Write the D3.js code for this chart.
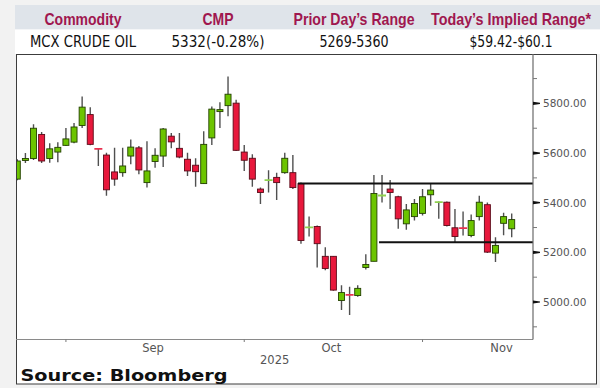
<!DOCTYPE html>
<html>
<head>
<meta charset="utf-8">
<script src="https://cdn.jsdelivr.net/npm/d3@7"></script>
<style>
  body { margin: 0; background: #f2f2f2; }
  svg { display: block; }
</style>
</head>
<body>
<svg id="chart"></svg>
<script>
// header table
const headers = ["Commodity", "CMP", "Prior Day\u2019s Range", "Today\u2019s Implied Range*"];
const rowValues = ["MCX CRUDE OIL", "5332(-0.28%)", "5269-5360", "$59.42-$60.1"];

// daily candles, MCX crude oil
const dates = [
  "2025-08-05","2025-08-06","2025-08-07","2025-08-08","2025-08-11","2025-08-12","2025-08-13","2025-08-14",
  "2025-08-18","2025-08-19","2025-08-20","2025-08-21","2025-08-22","2025-08-25","2025-08-26","2025-08-28",
  "2025-08-29","2025-09-01","2025-09-02","2025-09-03","2025-09-04","2025-09-05","2025-09-08","2025-09-09",
  "2025-09-10","2025-09-11","2025-09-12","2025-09-15","2025-09-16","2025-09-17","2025-09-18","2025-09-19",
  "2025-09-22","2025-09-23","2025-09-24","2025-09-25","2025-09-26","2025-09-29","2025-09-30","2025-10-01",
  "2025-10-03","2025-10-06","2025-10-07","2025-10-08","2025-10-09","2025-10-10","2025-10-13","2025-10-14",
  "2025-10-15","2025-10-16","2025-10-17","2025-10-20","2025-10-21","2025-10-23","2025-10-24","2025-10-27",
  "2025-10-28","2025-10-29","2025-10-30","2025-10-31","2025-11-03","2025-11-04"
];
const open = [
  5495,5570,5578,5675,5578,5604,5631,5644,5711,5755,5618,5592,5524,5521,5588,5621,
  5481,5566,5588,5668,5619,5575,5551,5477,5661,5767,5791,5801,5604,5579,5455,5490,
  5502,5521,5521,5477,5300,5304,5184,5184,5006,5030,5026,5139,5164,5428,5455,5424,
  5315,5344,5357,5432,5402,5402,5299,5299,5268,5344,5392,5197,5317,5295
];
const high = [
  5575,5600,5716,5685,5640,5644,5701,5721,5828,5785,5620,5601,5621,5621,5655,5628,
  5648,5619,5701,5681,5681,5601,5579,5688,5788,5805,5908,5815,5632,5595,5461,5531,
  5521,5601,5592,5481,5344,5308,5221,5184,5068,5061,5068,5192,5512,5512,5491,5428,
  5395,5415,5455,5475,5405,5405,5375,5365,5352,5428,5401,5261,5360,5357
];
const low = [
  5490,5560,5572,5560,5561,5563,5628,5639,5701,5631,5548,5428,5468,5505,5555,5515,
  5461,5541,5544,5619,5579,5508,5464,5475,5632,5701,5748,5608,5528,5464,5395,5441,
  5411,5517,5455,5235,5264,5139,5128,5045,4968,4948,5021,5131,5164,5401,5375,5295,
  5291,5328,5348,5388,5335,5304,5241,5268,5261,5328,5197,5161,5269,5261
];
const close = [
  5568,5578,5700,5568,5617,5623,5657,5705,5785,5635,5616,5452,5495,5548,5624,5532,
  5528,5591,5697,5645,5584,5528,5525,5635,5777,5775,5837,5611,5571,5495,5441,5492,
  5481,5579,5461,5248,5302,5235,5135,5048,5038,5028,5055,5151,5437,5430,5441,5335,
  5371,5397,5424,5451,5403,5308,5264,5297,5328,5402,5201,5228,5344,5332
];

// axis labels and ticks
const yTicks = [5000, 5200, 5400, 5600, 5800];
const yMinorTicks = [4900, 5100, 5300, 5500, 5700, 5900];
const monthLabels = ["Sep", "Oct", "Nov"];
const monthLabelDates = ["2025-09-01", "2025-10-01", "2025-11-03"];
const monthTickDates = ["2025-08-13", "2025-09-16", "2025-10-17"];
const yearLabel = "2025";
const yearLabelDate = "2025-09-22";

// drawn support / resistance levels
const levelValues = [5477, 5241];
const levelStartDates = ["2025-09-25", "2025-10-10"];

const W = 600, H = 388;
const plot = {left: 16, right: 533, top: 54, bottom: 339.5};

const svg = d3.select("#chart")
    .attr("width", W)
    .attr("height", H)
    .style("font-family", "'DejaVu Sans', Verdana, sans-serif");

// ---- header table (narrow font is not installed, so squeeze to the printed widths)
const colX = [83, 218, 354, 511];
const headerW = [77, 31, 121, 160];
const valueW = [106, 93, 69, 83];

svg.append("rect")
    .attr("x", 15).attr("y", 5)
    .attr("width", W - 15).attr("height", 24.5)
    .attr("fill", "#dfe4ea");
svg.append("rect")
    .attr("x", 15).attr("y", 29.5)
    .attr("width", W - 15).attr("height", 24.5)
    .attr("fill", "#ffffff");

svg.selectAll(".hdr")
  .data(headers)
  .join("text")
    .attr("class", "hdr")
    .attr("x", (d, i) => colX[i] - headerW[i] / 2)
    .attr("y", 24.5)
    .attr("textLength", (d, i) => headerW[i])
    .attr("lengthAdjust", "spacingAndGlyphs")
    .style("font-family", "'Liberation Sans', Arial, sans-serif")
    .style("font-weight", "bold")
    .style("font-size", "17px")
    .attr("fill", "#a0174f")
    .text(d => d);

svg.selectAll(".val")
  .data(rowValues)
  .join("text")
    .attr("class", "val")
    .attr("x", (d, i) => colX[i] - valueW[i] / 2)
    .attr("y", 47)
    .attr("textLength", (d, i) => valueW[i])
    .attr("lengthAdjust", "spacingAndGlyphs")
    .style("font-family", "'DejaVu Sans', sans-serif")
    .style("font-size", "16px")
    .attr("fill", "#111")
    .text(d => d);

// ---- chart frame
svg.append("rect")
    .attr("x", 16.5).attr("y", 54.5)
    .attr("width", 580).attr("height", 329.5)
    .attr("fill", "#ffffff")
    .attr("stroke", "#3c3c3c")
    .attr("stroke-width", 1);

// ---- scales
const x = d3.scalePoint()
    .domain(dates)
    .range([17.3, 511.7]);

const y = d3.scaleLinear()
    .domain([4849, 5999])
    .range([plot.bottom, plot.top]);

svg.append("clipPath")
    .attr("id", "plotclip")
  .append("rect")
    .attr("x", plot.left + 1).attr("y", plot.top)
    .attr("width", plot.right - plot.left - 1)
    .attr("height", plot.bottom - plot.top);

const candles = dates.map((d, i) => ({
  date: d, o: open[i], h: high[i], l: low[i], c: close[i]
}));

const g = svg.append("g").attr("clip-path", "url(#plotclip)");

// wicks
g.selectAll(".wick")
  .data(candles)
  .join("line")
    .attr("class", "wick")
    .attr("x1", d => x(d.date)).attr("x2", d => x(d.date))
    .attr("y1", d => y(d.h)).attr("y2", d => y(d.l))
    .attr("stroke", "#505050")
    .attr("stroke-width", 1.4);

const bw = 6;
const isDoji = d => Math.abs(d.c - d.o) < 5;

// bodies
g.selectAll(".body")
  .data(candles.filter(d => !isDoji(d)))
  .join("rect")
    .attr("class", "body")
    .attr("x", d => x(d.date) - bw / 2)
    .attr("y", d => y(Math.max(d.o, d.c)))
    .attr("width", bw)
    .attr("height", d => Math.max(1.5, Math.abs(y(d.o) - y(d.c))))
    .attr("fill", d => d.c >= d.o ? "#6cc400" : "#e8183c")
    .attr("stroke", d => d.c >= d.o ? "#244000" : "#5a0a18")
    .attr("stroke-width", 0.9);

// doji marks
g.selectAll(".doji")
  .data(candles.filter(isDoji))
  .join("line")
    .attr("class", "doji")
    .attr("x1", d => x(d.date) - 4).attr("x2", d => x(d.date) + 4)
    .attr("y1", d => y((d.o + d.c) / 2)).attr("y2", d => y((d.o + d.c) / 2))
    .attr("stroke", d => d.c >= d.o ? "#8fd14f" : "#e8304f")
    .attr("stroke-width", 1.8);

// support / resistance
svg.selectAll(".level")
  .data(levelValues)
  .join("line")
    .attr("class", "level")
    .attr("x1", (d, i) => x(levelStartDates[i]) - 3)
    .attr("x2", plot.right)
    .attr("y1", d => y(d)).attr("y2", d => y(d))
    .attr("stroke", "#111")
    .attr("stroke-width", 2);

// ---- axes
svg.append("line")
    .attr("x1", plot.left).attr("x2", plot.right)
    .attr("y1", plot.bottom).attr("y2", plot.bottom)
    .attr("stroke", "#8a8a8a").attr("stroke-width", 1.2);
svg.append("line")
    .attr("x1", plot.right).attr("x2", plot.right)
    .attr("y1", plot.top).attr("y2", plot.bottom)
    .attr("stroke", "#6a6a6a").attr("stroke-width", 1.2);

svg.selectAll(".ymajor")
  .data(yTicks)
  .join("path")
    .attr("class", "ymajor")
    .attr("d", d => `M${plot.right},${y(d) - 1.6}L${plot.right + 7},${y(d) - 0.6}L${plot.right + 7},${y(d) + 0.6}L${plot.right},${y(d) + 1.6}Z`)
    .attr("fill", "#111");

svg.selectAll(".yminor")
  .data(yMinorTicks)
  .join("line")
    .attr("class", "yminor")
    .attr("x1", plot.right).attr("x2", plot.right + 4)
    .attr("y1", d => y(d)).attr("y2", d => y(d))
    .attr("stroke", "#777");

svg.selectAll(".ylab")
  .data(yTicks)
  .join("text")
    .attr("class", "ylab")
    .attr("x", plot.right + 10)
    .attr("y", d => y(d) + 4)
    .style("font-size", "10.5px")
    .attr("fill", "#555")
    .text(d => d3.format(".2f")(d));

svg.selectAll(".xtick")
  .data(monthTickDates)
  .join("line")
    .attr("class", "xtick")
    .attr("x1", d => x(d)).attr("x2", d => x(d))
    .attr("y1", plot.bottom).attr("y2", plot.bottom + 2.5)
    .attr("stroke", "#777");

svg.selectAll(".xlab")
  .data(monthLabels)
  .join("text")
    .attr("class", "xlab")
    .attr("x", (d, i) => x(monthLabelDates[i]) - 2)
    .attr("y", 352)
    .attr("text-anchor", "middle")
    .style("font-size", "11.5px")
    .attr("fill", "#555")
    .text(d => d);

svg.append("text")
    .attr("x", x(yearLabelDate) - 2)
    .attr("y", 364)
    .attr("text-anchor", "middle")
    .style("font-size", "11.5px")
    .attr("fill", "#555")
    .text(yearLabel);

svg.append("text")
    .attr("x", 20.5)
    .attr("y", 381)
    .attr("textLength", 207)
    .attr("lengthAdjust", "spacingAndGlyphs")
    .style("font-size", "15px")
    .style("font-weight", "bold")
    .attr("fill", "#111")
    .text("Source: Bloomberg");
</script>
</body>
</html>
